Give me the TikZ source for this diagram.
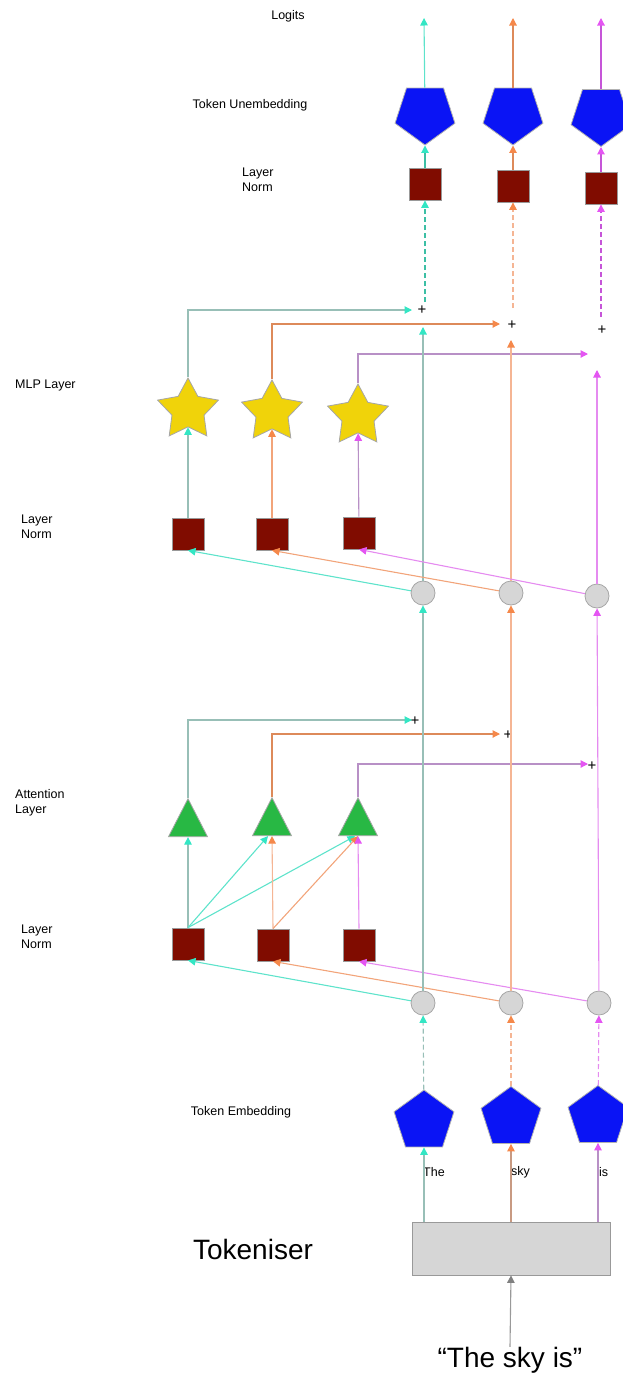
\documentclass[tikz,border=0pt]{standalone}
\usepackage{fontspec}
\setmainfont{Liberation Sans}
\usetikzlibrary{shapes.geometric,arrows.meta}
\definecolor{cyT}{HTML}{33E6C4}
\definecolor{cyL}{HTML}{5EE3CB}
\definecolor{cyR}{HTML}{98BFB7}
\definecolor{cyD}{HTML}{3CBFA5}
\definecolor{orT}{HTML}{F5884A}
\definecolor{orL}{HTML}{F2A47A}
\definecolor{orP}{HTML}{F5B594}
\definecolor{orD}{HTML}{DD8A5A}
\definecolor{orB}{HTML}{C89A82}
\definecolor{mgT}{HTML}{E455F2}
\definecolor{mgL}{HTML}{E58BF0}
\definecolor{mgD}{HTML}{C655D8}
\definecolor{puL}{HTML}{B890C6}
\definecolor{lnred}{HTML}{800C00}
\definecolor{pentb}{HTML}{0A14F5}
\definecolor{stary}{HTML}{F0D30A}
\definecolor{trig}{HTML}{28B844}
\definecolor{circg}{HTML}{D6D6D6}
\begin{document}
\begin{tikzpicture}[x=1pt,y=-1pt,
  lbl/.style={font=\fontsize{12.5}{15}\selectfont, inner sep=0, align=left},
  big/.style={font=\fontsize{28}{32}\selectfont, inner sep=0},
  lnsq/.style={rectangle, minimum size=32pt, inner sep=0, fill=lnred, draw=gray!80, line width=0.8pt},
  pentU/.style={regular polygon, regular polygon sides=5, minimum size=63pt, inner sep=0, fill=pentb, draw=gray!60, line width=0.8pt, shape border rotate=180},
  pentE/.style={regular polygon, regular polygon sides=5, minimum size=63pt, inner sep=0, fill=pentb, draw=gray!60, line width=0.8pt},
  starsh/.style={star, star points=5, star point ratio=1.9, minimum size=64pt, inner sep=0, fill=stary, draw=gray!70, line width=0.8pt},
  trish/.style={regular polygon, regular polygon sides=3, minimum size=45pt, inner sep=0, yscale=1.125, fill=trig, draw=gray!70, line width=0.8pt},
  circsh/.style={circle, minimum size=24pt, inner sep=0, fill=circg, draw=gray!70, line width=0.8pt},
  plus/.style={font=\fontsize{15}{15}\selectfont, inner sep=0},
  ln/.style={line width=1.1pt},
  aC/.style={ln, -{Triangle[length=7.5pt,width=7.5pt,color=cyT]}},
  aO/.style={ln, -{Triangle[length=7.5pt,width=7.5pt,color=orT]}},
  aM/.style={ln, -{Triangle[length=7.5pt,width=7.5pt,color=mgT]}},
  aG/.style={ln, -{Triangle[length=7.5pt,width=7.5pt,color=gray]}},
  dsh/.style={dash pattern=on 5pt off 3pt}]
\useasboundingbox (0,0) rectangle (622,1376);

% ---- labels
\node[lbl] (tLog) at (288,16) {Logits};
\node[lbl] (tUn) at (250,105) {Token Unembedding};
\node[lbl, anchor=west] (tLN1) at (242,180) {Layer\\Norm};
\node[lbl, anchor=west] (tMLP) at (15,385) {MLP Layer};
\node[lbl, anchor=west] (tLN2) at (21,527) {Layer\\Norm};
\node[lbl, anchor=west] (tAtt) at (15,803) {Attention\\Layer};
\node[lbl, anchor=west] (tLN3) at (21,937) {Layer\\Norm};
\node[lbl] (tEmb) at (241,1112) {Token Embedding};
\node[big] (tTok) at (253,1249) {Tokeniser};

% ---- top
\coordinate (L1) at (424,18);
\coordinate (L2) at (513,18);
\coordinate (L3) at (601,18);
\node[pentU] (U1) at (425,113.5) {};
\node[pentU] (U2) at (513,113.5) {};
\node[pentU] (U3) at (601,115) {};
\node[lnsq] (N1) at (425,184) {};
\node[lnsq] (N2) at (513,186) {};
\node[lnsq] (N3) at (601,188) {};
\node[plus] (P1) at (422,310) {+};
\node[plus] (P2) at (512,325) {+};
\node[plus] (P3) at (602,330) {+};
\coordinate (d1) at (425,302);
\coordinate (d2) at (513,308);
\coordinate (d3) at (601,317);

% ---- MLP block
\coordinate (h1) at (412,310);
\coordinate (h2) at (500,324);
\coordinate (h3) at (588,354);
\coordinate (r1) at (423,327);
\coordinate (r2) at (511,340);
\coordinate (r3) at (597,370);
\node[starsh] (S1) at (188,410) {};
\node[starsh] (S2) at (272,412) {};
\node[starsh] (S3) at (358,416) {};
\node[lnsq] (Q1) at (188,534) {};
\node[lnsq] (Q2) at (272,534) {};
\node[lnsq] (Q3) at (359,533) {};
\node[circsh] (M1) at (423,593) {};
\node[circsh] (M2) at (511,593) {};
\node[circsh] (M3) at (597,596) {};

% ---- attention block
\coordinate (g1) at (412,720);
\coordinate (g2) at (500,734);
\coordinate (g3) at (588,764);
\node[plus] (PA1) at (415,721) {+};
\node[plus] (PA2) at (508,735) {+};
\node[plus] (PA3) at (592,766) {+};
\node[trish] (T1) at (188,824) {};
\node[trish] (T2) at (272,823) {};
\node[trish] (T3) at (358,823) {};
\node[lnsq] (K1) at (188,944) {};
\node[lnsq] (K2) at (273,945) {};
\node[lnsq] (K3) at (359,945) {};
\node[circsh] (A1) at (423,1003) {};
\node[circsh] (A2) at (511,1003) {};
\node[circsh] (A3) at (599,1003) {};

% ---- embedding
\node[pentE] (E1) at (424,1121.5) {};
\node[pentE] (E2) at (511,1118) {};
\node[pentE] (E3) at (598,1117) {};
\node[lbl, anchor=west] (w1) at (423,1172) {The};
\node[lbl, anchor=west] (w2) at (511,1172) {sky};
\node[lbl, anchor=west] (w3) at (599,1172) {is};
\node[rectangle, minimum width=198pt, minimum height=53pt, inner sep=0, fill=circg, draw=gray!80, line width=0.8pt] (TK) at (511,1248.5) {};
\node[big] (IN) at (510,1360) {“The sky is”};

% ---- connectors: top
\draw[aC, draw=cyL] (U1) -- (L1);
\draw[aO, draw=orD] (U2) -- (L2);
\draw[aM, draw=mgD] (U3) -- (L3);
\draw[aC, draw=cyD] (N1) -- (U1);
\draw[aO, draw=orD] (N2) -- (U2);
\draw[aM, draw=mgD] (N3) -- (U3);
\draw[aC, dsh, draw=cyD] (d1) -- (N1.south);
\draw[aO, dsh, draw=orP] (d2) -- (N2.south);
\draw[aM, dsh, draw=mgD] (d3) -- (N3.south);

% ---- MLP connectors
\draw[aC, draw=cyR] (S1.north) |- (h1);
\draw[aO, draw=orD] (S2.north) |- (h2);
\draw[aM, draw=puL] (S3.north) |- (h3);
\draw[aC, draw=cyR] (M1) -- (r1);
\draw[aO, draw=orP] (M2) -- (r2);
\draw[aM, draw=mgL] (M3) -- (r3);
\draw[aC, draw=cyR] (Q1) -- (S1);
\draw[aO, draw=orL] (Q2) -- (S2);
\draw[aM, draw=puL] (Q3) -- (S3);
\draw[aC, draw=cyL] (M1) -- (Q1.south);
\draw[aO, draw=orL] (M2) -- (Q2.south);
\draw[aM, draw=mgL] (M3) -- (Q3.south);

% ---- attention connectors
\draw[aC, draw=cyR] (T1.north) |- (g1);
\draw[aO, draw=orD] (T2.north) |- (g2);
\draw[aM, draw=puL] (T3.north) |- (g3);
\draw[aC, draw=cyR] (K1.north) -- (T1.south);
\draw[aC, draw=cyL] (K1.north) -- ([xshift=-4pt]T2.south);
\draw[aC, draw=cyL] (K1.north) -- ([xshift=-3pt]T3.south);
\draw[aO, draw=orP] (K2.north) -- (T2.south);
\draw[aO, draw=orL] (K2.north) -- (T3.south);
\draw[aM, draw=mgL] (K3.north) -- (T3.south);
\draw[aC, draw=cyL] (A1) -- (K1.south);
\draw[aO, draw=orL] (A2) -- (K2.south);
\draw[aM, draw=mgL] (A3) -- (K3.south);
\draw[aC, draw=cyR] (A1) -- (M1);
\draw[aO, draw=orP] (A2) -- (M2);
\draw[aM, draw=mgL] (A3) -- (M3);

% ---- embedding connectors
\draw[aC, dsh, draw=cyR] (E1) -- (A1);
\draw[aO, dsh, draw=orP] (E2) -- (A2);
\draw[aM, dsh, draw=mgL] (E3) -- (A3);
\draw[aC, draw=cyR] (E1.south |- TK.north) -- (E1);
\draw[aO, draw=orB] (E2.south |- TK.north) -- (E2);
\draw[aM, draw=puL] (E3.south |- TK.north) -- (E3);
\draw[aG, draw=gray!80] (IN.north) -- (TK.south);
\end{tikzpicture}
\end{document}
